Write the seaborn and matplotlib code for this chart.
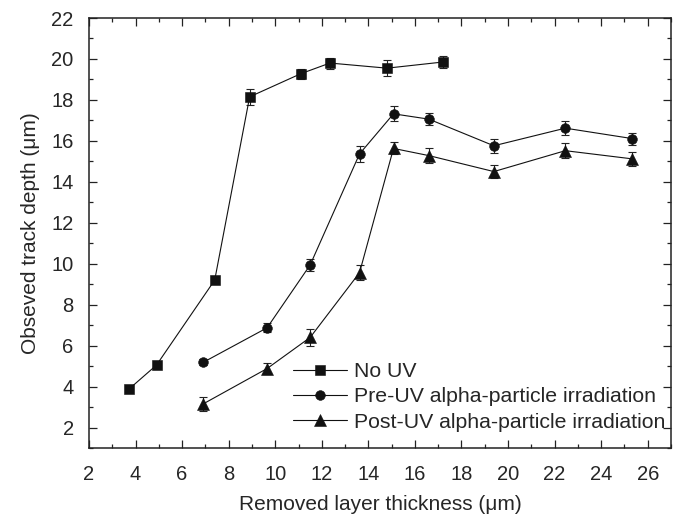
import matplotlib
matplotlib.use("Agg")
import matplotlib.pyplot as plt
import seaborn as sns
import pandas as pd
from matplotlib.ticker import MultipleLocator

# Data
nouv_x = [3.7, 4.9, 7.4, 8.9, 11.1, 12.35, 14.8, 17.2]
nouv_y = [3.86, 5.05, 9.2, 18.15, 19.28, 19.8, 19.55, 19.85]
nouv_err = [0.1, 0.12, 0.15, 0.38, 0.25, 0.27, 0.39, 0.3]

pre_x = [6.9, 9.65, 11.5, 13.62, 15.08, 16.6, 19.39, 22.46, 25.34]
pre_y = [5.18, 6.87, 9.94, 15.36, 17.32, 17.06, 15.76, 16.62, 16.11]
pre_err = [0.15, 0.22, 0.29, 0.38, 0.37, 0.29, 0.33, 0.34, 0.29]

post_x = [6.9, 9.65, 11.5, 13.62, 15.08, 16.6, 19.39, 22.46, 25.34]
post_y = [3.15, 4.88, 6.4, 9.56, 15.63, 15.28, 14.5, 15.52, 15.12]
post_err = [0.34, 0.26, 0.41, 0.36, 0.29, 0.36, 0.32, 0.38, 0.33]

labels = ["No UV", "Pre-UV alpha-particle irradiation", "Post-UV alpha-particle irradiation"]
markers = ["s", "o", "^"]
msizes = [6.6, 7.0, 8.6]

sns.set_theme(style="ticks")
plt.rcParams['font.family'] = ['Liberation Sans', 'DejaVu Sans']

series = [(nouv_x, nouv_y, nouv_err), (pre_x, pre_y, pre_err), (post_x, post_y, post_err)]

fig = plt.figure(figsize=(6.79, 5.21), dpi=100)
ax = fig.add_axes([89/679, 1-448/521, (671-89)/679, (448-18)/521])

for (xs, ys, es), lab, m, ms in zip(series, labels, markers, msizes):
    d = pd.DataFrame({"x": xs, "y": ys})
    sns.lineplot(data=d, x="x", y="y", marker=m, markersize=ms, color="#111111",
                 linewidth=0.8, markeredgewidth=0.4, markeredgecolor="#111111",
                 errorbar=None, sort=False, label=lab, ax=ax)
    ax.errorbar(xs, ys, yerr=es, fmt="none", ecolor="#222222",
                elinewidth=0.8, capsize=3, capthick=0.8, zorder=1)

ax.set_xlim(2, 27)
ax.set_ylim(1, 22)
ax.xaxis.set_major_locator(MultipleLocator(2))
ax.xaxis.set_minor_locator(MultipleLocator(1))
ax.yaxis.set_major_locator(MultipleLocator(2))
ax.yaxis.set_minor_locator(MultipleLocator(1))
ax.tick_params(which="both", direction="in", top=True, right=True,
               labeltop=False, labelright=False, color="#222222", width=0.9)
ax.tick_params(which="major", length=5.5, labelsize=14.5)
ax.tick_params(axis="y", which="major", pad=11)
ax.tick_params(axis="x", which="major", pad=12.5)
ax.tick_params(which="minor", length=3)
for s in ax.spines.values():
    s.set_linewidth(1.1)
    s.set_color("#222222")

ax.set_xlabel("Removed layer thickness (\u03bcm)", fontsize=15, labelpad=8)
ax.set_ylabel("Obseved track depth (\u03bcm)", fontsize=15, labelpad=8)

handles, labs = ax.get_legend_handles_labels()
leg = ax.legend(handles, labs, loc="upper left",
                bbox_to_anchor=(293/679, 1-362/521), bbox_transform=fig.transFigure,
                frameon=False, fontsize=15.3, borderpad=0, borderaxespad=0,
                handlelength=2.55, handletextpad=0.33, labelspacing=0.3)

fig.savefig("out.png", dpi=100)
